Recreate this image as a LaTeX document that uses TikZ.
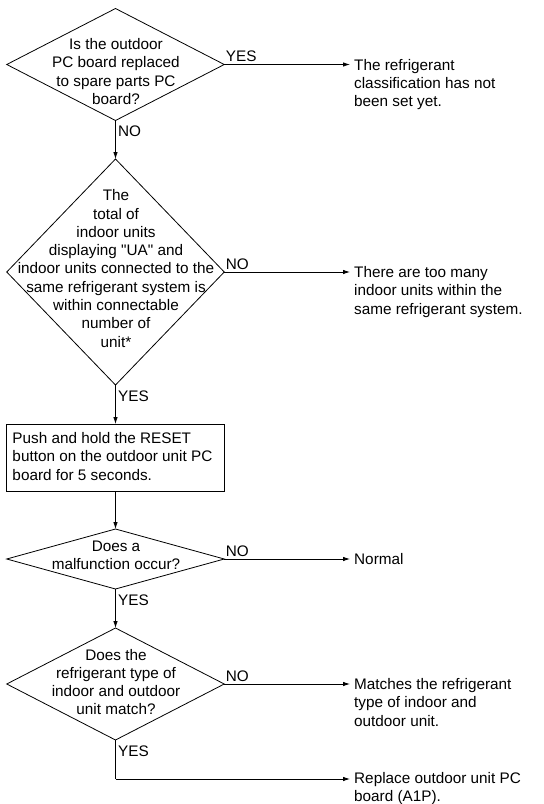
\documentclass[tikz,border=0pt]{standalone}
\usepackage{fontspec}
\setmainfont{Liberation Sans}[Ligatures=TeXOff]
\usetikzlibrary{shapes.geometric,arrows.meta}
\begin{document}
\begin{tikzpicture}[x=1pt,y=-1pt,
  every node/.style={font=\fontsize{15.3}{18.3}\selectfont},
  dia/.style={draw,diamond,inner sep=0pt,outer sep=0pt,line width=0.8pt},
  btext/.style={align=center,inner sep=0pt},
  rtext/.style={align=left,inner sep=0pt,anchor=base west},
  lab/.style={inner sep=0pt,anchor=base west},
  arr/.style={line width=0.8pt,-{Latex[length=7pt,width=4.5pt]}},
  ln/.style={line width=0.8pt}]
\useasboundingbox (0,0) rectangle (544,804);
% decision 1
\node[dia,minimum width=217.5pt,minimum height=112pt] (d1) at (115.5,64.5) {};
\node[btext] (q1) at (116,71.5) {Is the outdoor\\PC board replaced\\to spare parts PC\\board?};
% decision 2
\node[dia,minimum width=217.5pt,minimum height=226pt] (d2) at (115.5,272) {};
\node[btext] (q2) at (116,268.5) {The\\total of\\indoor units\\displaying "UA" and\\indoor units connected to the\\same refrigerant system is\\within connectable\\number of\\unit*};
% box
\node[draw,line width=0.8pt,minimum width=217.5pt,minimum height=67pt,inner sep=0pt,outer sep=0pt] (b1) at (115.5,457.5) {};
\node[rtext] (bt) at (12.3,480) {Push and hold the RESET\\button on the outdoor unit PC\\board for 5 seconds.};
% decision 3
\node[dia,minimum width=217.5pt,minimum height=60pt] (d3) at (115.5,559) {};
\node[btext] (q3) at (116,555.5) {Does a\\malfunction occur?};
% decision 4
\node[dia,minimum width=217.5pt,minimum height=112pt] (d4) at (115.5,684) {};
\node[btext] (q4) at (116,682) {Does the\\refrigerant type of\\indoor and outdoor\\unit match?};
% result coordinates
\coordinate (c1) at (350,64.5);
\coordinate (c2) at (350,272);
\coordinate (c3) at (350,559);
\coordinate (c4) at (350,684);
\coordinate (c5) at (350,779);
\coordinate (k5) at (d4.south |- c5);
% result texts
\node[rtext] (t1) at (354,106.6) {The refrigerant\\classification has not\\been set yet.};
\node[rtext] (t2) at (354,314.1) {There are too many\\indoor units within the\\same refrigerant system.};
\node[rtext] (t3) at (354,564.5) {Normal};
\node[rtext] (t4) at (354,726.1) {Matches the refrigerant\\type of indoor and\\outdoor unit.};
\node[rtext] (t5) at (354,801.3) {Replace outdoor unit PC\\board (A1P).};
% connectors
\draw[arr] (d1.east) -- (c1);
\draw[arr] (d1.south) -- (d2.north);
\draw[arr] (d2.east) -- (c2);
\draw[arr] (d2.south) -- (b1.north);
\draw[arr] (b1.south) -- (d3.north);
\draw[arr] (d3.east) -- (c3);
\draw[arr] (d3.south) -- (d4.north);
\draw[arr] (d4.east) -- (c4);
\draw[ln] (d4.south) -- (k5);
\draw[arr] (k5) -- (c5);
% labels
\node[lab] (l1) at ([xshift=1.5pt,yshift=3pt]d1.east) {YES};
\node[lab] (l2) at ([xshift=2.5pt,yshift=-16pt]d1.south) {NO};
\node[lab] (l3) at ([xshift=1.5pt,yshift=2.5pt]d2.east) {NO};
\node[lab] (l4) at ([xshift=2.5pt,yshift=-16.5pt]d2.south) {YES};
\node[lab] (l5) at ([xshift=1.5pt,yshift=2.5pt]d3.east) {NO};
\node[lab] (l6) at ([xshift=2.5pt,yshift=-16.5pt]d3.south) {YES};
\node[lab] (l7) at ([xshift=1.5pt,yshift=2.5pt]d4.east) {NO};
\node[lab] (l8) at ([xshift=2.5pt,yshift=-16.5pt]d4.south) {YES};
\end{tikzpicture}
\end{document}
